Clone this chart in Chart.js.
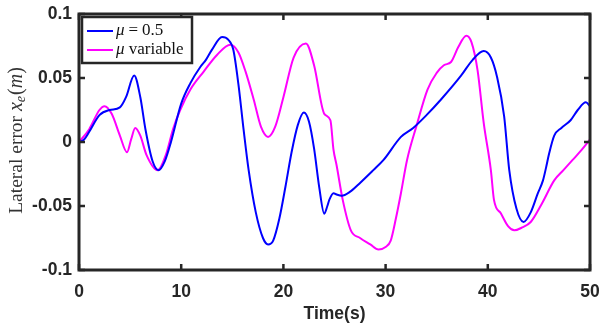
<!DOCTYPE html>
<html>
<head>
<meta charset="utf-8">
<script src="https://cdn.jsdelivr.net/npm/chart.js@4.4.0/dist/chart.umd.min.js"></script>
<style>
  html, body { margin: 0; padding: 0; background: #fff; }
  #wrap { width: 601px; height: 327px; position: relative; }
</style>
</head>
<body>
<div id="wrap"><canvas id="c" width="601" height="327"></canvas></div>
<script>
const seriesLabels = ['\u03bc = 0.5', '\u03bc variable'];
const xTickValues = [0, 10, 20, 30, 40, 50];
const yTickValues = [-0.1, -0.05, 0, 0.05, 0.1];
const yTickLabels = ['-0.1', '-0.05', '0', '0.05', '0.1'];

const blueTime = [0,0.5,1,2,3,4,4.6,5.4,6.0,6.5,7.2,7.8,8.4,9,10,10.9,11.9,12.4,13,14,14.6,15.1,15.6,16.1,16.6,17.3,18,18.5,19,19.6,20.2,20.8,21.4,22,22.5,23,23.5,24,24.3,24.5,24.9,25.2,25.7,26.5,27.5,28.8,29.8,31.5,32.7,34,35.4,37.4,38.5,39.6,40.3,40.9,41.6,42.1,42.8,43.5,44.2,44.9,45.4,45.7,46,46.5,47.2,48.1,48.8,49.6,50];
const blueValues = [0,0.002,0.008,0.021,0.025,0.027,0.035,0.052,0.035,0.010,-0.015,-0.022,-0.015,0.0,0.030,0.046,0.059,0.064,0.072,0.082,0.080,0.072,0.045,0.010,-0.022,-0.055,-0.075,-0.080,-0.077,-0.060,-0.035,-0.008,0.013,0.023,0.016,-0.005,-0.035,-0.056,-0.050,-0.045,-0.040,-0.041,-0.042,-0.039,-0.032,-0.022,-0.014,0.004,0.011,0.021,0.033,0.052,0.064,0.071,0.066,0.051,0.020,-0.022,-0.052,-0.0625,-0.055,-0.040,-0.030,-0.020,-0.009,0.005,0.011,0.017,0.025,0.031,0.028];

const magentaTime = [0,1,2,2.5,3.2,4,4.7,5.1,5.5,6,6.6,7.7,8.5,9.2,9.9,10.9,12.2,13.5,14.8,15.6,16.3,17.1,17.8,18.5,19.2,20,21,22.2,23,24,24.6,24.9,25.2,25.8,26.6,27.5,28.5,29.3,30,30.5,31,31.5,32.1,33,34.1,35,35.7,36.4,37.1,37.9,38.4,39,39.6,40.3,40.6,41.3,42,42.6,43.3,44.2,45.3,46.5,47.4,48.3,49.2,50];
const magentaValues = [0,0.010,0.025,0.028,0.022,0.005,-0.008,0.002,0.011,0.005,-0.010,-0.022,-0.010,0.010,0.025,0.041,0.055,0.068,0.076,0.070,0.055,0.033,0.012,0.004,0.012,0.035,0.066,0.077,0.060,0.022,0.017,-0.006,-0.018,-0.045,-0.069,-0.075,-0.080,-0.084,-0.082,-0.077,-0.060,-0.040,-0.014,0.012,0.041,0.054,0.060,0.0625,0.074,0.083,0.078,0.056,0.015,-0.022,-0.045,-0.056,-0.066,-0.069,-0.067,-0.0625,-0.048,-0.030,-0.022,-0.014,-0.006,0.002];

const seriesColors = ['#0000ff', '#ff00ff'];

function pts(ts, vs) { return ts.map((t, i) => ({ x: t, y: vs[i] })); }

const AXIS_COLOR = '#262626';
const SERIF = '"Liberation Serif", "DejaVu Serif", serif';

const framePlugin = {
  id: 'frame',
  afterDraw(chart) {
    const { ctx, chartArea: a, scales } = chart;
    ctx.save();
    ctx.strokeStyle = AXIS_COLOR;
    ctx.lineWidth = 2.5;
    const tl = 6;
    xTickValues.forEach(v => {
      const px = scales.x.getPixelForValue(v);
      ctx.beginPath();
      ctx.moveTo(px, a.bottom); ctx.lineTo(px, a.bottom - tl);
      ctx.moveTo(px, a.top); ctx.lineTo(px, a.top + tl);
      ctx.stroke();
    });
    yTickValues.forEach(v => {
      const py = scales.y.getPixelForValue(v);
      ctx.beginPath();
      ctx.moveTo(a.left, py); ctx.lineTo(a.left + tl, py);
      ctx.moveTo(a.right, py); ctx.lineTo(a.right - tl, py);
      ctx.stroke();
    });
    ctx.lineWidth = 3;
    ctx.strokeRect(a.left, a.top, a.right - a.left, a.bottom - a.top);

    // legend
    const lx = 82, ly = 17, lw = 110, lh = 46;
    ctx.fillStyle = '#fff';
    ctx.fillRect(lx, ly, lw, lh);
    ctx.lineWidth = 2.5;
    ctx.strokeStyle = AXIS_COLOR;
    ctx.strokeRect(lx, ly, lw, lh);
    const rows = [31, 50];
    chart.data.datasets.forEach((ds, i) => {
      ctx.strokeStyle = ds.borderColor;
      ctx.lineWidth = 2;
      ctx.beginPath();
      ctx.moveTo(87, rows[i]); ctx.lineTo(113, rows[i]);
      ctx.stroke();
      ctx.fillStyle = '#111';
      ctx.textBaseline = 'middle';
      ctx.textAlign = 'left';
      const label = ds.label;
      const mu = label.charAt(0);
      let rest = label.slice(1);
      ctx.font = 'italic 17px ' + SERIF;
      ctx.fillText(mu, 116, rows[i]);
      let x = 116 + ctx.measureText(mu).width;
      ctx.font = '17px ' + SERIF;
      if (rest.indexOf('=') >= 0) {
        const segs = rest.trim().split('=');
        x += 4;
        ctx.fillText('=', x, rows[i]);
        x += ctx.measureText('=').width + 4;
        ctx.fillText(segs[1].trim(), x, rows[i]);
      } else {
        ctx.fillText(rest, x, rows[i]);
      }
    });

    // y-axis title
    ctx.translate(17, 141);
    ctx.rotate(-Math.PI / 2);
    const parts = [
      { t: 'Lateral error ', f: '19.5px ' + SERIF, dy: 0 },
      { t: 'x', f: 'italic 20px ' + SERIF, dy: 0 },
      { t: 'e', f: 'italic 14px ' + SERIF, dy: 4 },
      { t: '(', f: '20px ' + SERIF, dy: 0 },
      { t: 'm', f: 'italic 20px ' + SERIF, dy: 0 },
      { t: ')', f: '20px ' + SERIF, dy: 0 }
    ];
    let total = 0;
    parts.forEach(p => { ctx.font = p.f; p.w = ctx.measureText(p.t).width; total += p.w; });
    let x = -total / 2;
    ctx.fillStyle = '#333';
    ctx.textBaseline = 'middle';
    ctx.textAlign = 'left';
    parts.forEach(p => { ctx.font = p.f; ctx.fillText(p.t, x, p.dy); x += p.w + (p.t === 'e' ? 1 : 0); });
    ctx.restore();
  }
};

const TICK_FONT = { family: '"Liberation Sans", Arial, sans-serif', size: 17.5, weight: 'bold' };

new Chart(document.getElementById('c'), {
  type: 'line',
  data: {
    datasets: [
      { label: seriesLabels[0], data: pts(blueTime, blueValues), borderColor: seriesColors[0], borderWidth: 2, pointRadius: 0, cubicInterpolationMode: 'monotone', fill: false },
      { label: seriesLabels[1], data: pts(magentaTime, magentaValues), borderColor: seriesColors[1], borderWidth: 2, pointRadius: 0, cubicInterpolationMode: 'monotone', fill: false }
    ]
  },
  options: {
    responsive: false,
    animation: false,
    layout: { padding: { top: 14, right: 11, left: 0, bottom: 0 } },
    plugins: { legend: { display: false }, tooltip: { enabled: false } },
    scales: {
      x: {
        type: 'linear', min: 0, max: 50,
        afterBuildTicks(s) { s.ticks = xTickValues.map(v => ({ value: v })); },
        afterFit(s) { s.height = 57; s.paddingLeft = 0; s.paddingRight = 0; },
        grid: { display: false, drawTicks: false },
        border: { display: false },
        ticks: { color: '#262626', padding: 12, maxRotation: 0, font: TICK_FONT },
        title: { display: true, text: 'Time(s)', color: '#262626', padding: { top: 0, bottom: 2 }, font: TICK_FONT }
      },
      y: {
        type: 'linear', min: -0.1, max: 0.1,
        afterBuildTicks(s) { s.ticks = yTickValues.map(v => ({ value: v })); },
        afterFit(s) { s.width = 79; s.paddingTop = 0; s.paddingBottom = 0; },
        grid: { display: false, drawTicks: false },
        border: { display: false },
        ticks: {
          color: '#262626', padding: 7, font: TICK_FONT,
          callback(v) { const i = yTickValues.findIndex(t => Math.abs(t - v) < 1e-9); return i >= 0 ? yTickLabels[i] : ''; }
        }
      }
    }
  },
  plugins: [framePlugin]
});
</script>
</body>
</html>
